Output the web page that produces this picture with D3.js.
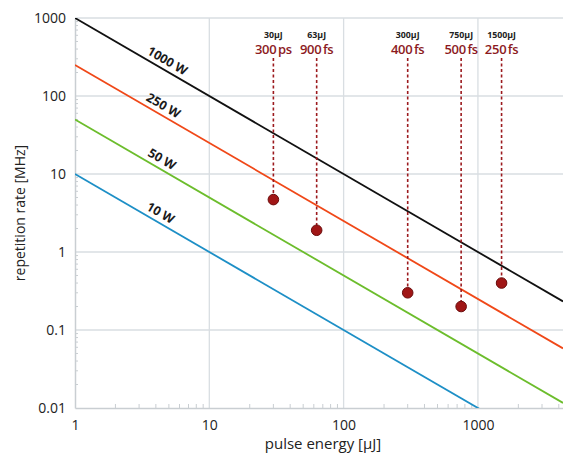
<!DOCTYPE html>
<html><head><meta charset="utf-8">
<script src="https://cdn.jsdelivr.net/npm/d3@7"></script>
<style>body{margin:0;background:#fff}svg{display:block}</style>
</head><body>
<svg id="c" width="563" height="460"></svg>
<script>
// ---- data ----
const powers = [1000, 250, 50, 10];
const powerLabels = ["1000 W", "250 W", "50 W", "10 W"];
const powerLabelEnergy = [4.5, 4.2, 4.1, 4.0];
const pointEnergy = [30, 63, 300, 750, 1500];
const pointRate = [4.7, 1.9, 0.3, 0.2, 0.4];
const pointEnergyLabels = ["30µJ", "63µJ", "300µJ", "750µJ", "1500µJ"];
const pointDurationLabels = ["300 ps", "900 fs", "400 fs", "500 fs", "250 fs"];
const xTicks = [1, 10, 100, 1000];
const xTickLabels = ["1", "10", "100", "1000"];
const yTicks = [0.01, 0.1, 1, 10, 100, 1000];
const yTickLabels = ["0.01", "0.1", "1", "10", "100", "1000"];
const xTitle = "pulse energy [µJ]";
const yTitle = "repetition rate [MHz]";

// ---- style ----
const lineColors = ["#111111", "#f04818", "#6cbd2c", "#1d8fc6"];
const gridColor = "#d9dee2";
const font = "'Open Sans', sans-serif";

const svg = d3.select("#c");
const L = 75, R = 563, T = 18, B = 408;
const x = d3.scaleLog().domain([1, 4300]).range([L, R]);
const y = d3.scaleLog().domain([0.01, 1000]).range([B, T]);

svg.append("defs").append("clipPath").attr("id", "clip")
  .append("rect").attr("x", L).attr("y", T).attr("width", R - L).attr("height", B - T);

// grid
const g = svg.append("g");
g.selectAll(".gx").data(xTicks.slice(1)).join("line")
  .attr("x1", d => x(d)).attr("x2", d => x(d)).attr("y1", T).attr("y2", B)
  .attr("stroke", gridColor).attr("stroke-width", 1.3);
g.selectAll(".gy").data(yTicks.slice(1)).join("line")
  .attr("x1", L).attr("x2", R).attr("y1", d => y(d)).attr("y2", d => y(d))
  .attr("stroke", gridColor).attr("stroke-width", 1.3);

// axes
const xMinor = [];
for (let dec = 1; dec <= 1000; dec *= 10) for (let k = 2; k <= 9; k++) if (dec * k < 4300) xMinor.push(dec * k);
const yMinor = [];
for (let dec = 0.01; dec < 1000; dec *= 10) for (let k = 2; k <= 9; k++) yMinor.push(dec * k);

const xAxis = d3.axisBottom(x).tickValues(xTicks).tickFormat((d, i) => xTickLabels[i]).tickSize(0).tickPadding(12);
const xa = svg.append("g").attr("transform", `translate(0,${B})`).call(xAxis);
xa.select(".domain").attr("stroke", "#c9ced2").attr("stroke-width", 1.5);
xa.selectAll("text").attr("font-family", font).attr("font-size", 14).attr("fill", "#222");
svg.append("g").selectAll("line").data(xMinor).join("line")
  .attr("x1", d => x(d)).attr("x2", d => x(d)).attr("y1", B).attr("y2", B - 4)
  .attr("stroke", "#c9ced2").attr("stroke-width", 1);

const yAxis = d3.axisLeft(y).tickValues(yTicks).tickFormat((d, i) => yTickLabels[i]).tickSize(0).tickPadding(9);
const ya = svg.append("g").attr("transform", `translate(${L},0)`).call(yAxis);
ya.select(".domain").attr("stroke", "#c9ced2").attr("stroke-width", 1.5);
ya.selectAll("text").attr("font-family", font).attr("font-size", 14).attr("fill", "#222");
svg.append("g").selectAll("line").data(yMinor).join("line")
  .attr("x1", L).attr("x2", L + 3).attr("y1", d => y(d)).attr("y2", d => y(d))
  .attr("stroke", "#c9ced2").attr("stroke-width", 1);

// power lines
const eSamples = [1, 4300];
const lg = svg.append("g").attr("clip-path", "url(#clip)");
powers.forEach((p, i) => {
  lg.append("path")
    .datum(eSamples.map(e => [e, p / e]))
    .attr("d", d3.line().x(d => x(d[0])).y(d => y(d[1])))
    .attr("fill", "none").attr("stroke", lineColors[i]).attr("stroke-width", 1.8);
});

// power labels
const ang = Math.atan2(y(1) - y(10), x(10) - x(1)) * 180 / Math.PI;
powers.forEach((p, i) => {
  const e = powerLabelEnergy[i];
  svg.append("text")
    .attr("transform", `translate(${x(e)},${y(p / e)}) rotate(${ang}) translate(0,-5)`)
    .attr("text-anchor", "middle")
    .attr("font-family", font).attr("font-weight", 700).attr("font-size", 12.5)
    .attr("fill", "#1a1a1a").text(powerLabels[i]);
});

// annotations
const ann = svg.append("g");
pointEnergy.forEach((e, i) => {
  const px = x(e), py = y(pointRate[i]);
  ann.append("line").attr("x1", px).attr("x2", px).attr("y1", 58).attr("y2", py)
    .attr("stroke", "#9c1a1e").attr("stroke-width", 1.6).attr("stroke-dasharray", "3,2.5");
  ann.append("text").attr("x", px).attr("y", 38).attr("text-anchor", "middle")
    .attr("font-family", font).attr("font-weight", 700).attr("font-size", 8.8).attr("fill", "#222")
    .text(pointEnergyLabels[i]);
  ann.append("text").attr("x", px).attr("y", 54).attr("text-anchor", "middle")
    .attr("font-family", font).attr("font-weight", 600).attr("font-size", 13)
    .attr("letter-spacing", -0.3).attr("word-spacing", -1.5).attr("fill", "#8c1a1e")
    .text(pointDurationLabels[i]);
  ann.append("circle").attr("cx", px).attr("cy", py).attr("r", 5.3)
    .attr("fill", "#a01616").attr("stroke", "#6a0c0c").attr("stroke-width", 1);
});

// titles
svg.append("text").attr("x", 323).attr("y", 449).attr("text-anchor", "middle")
  .attr("font-family", font).attr("font-size", 15).attr("fill", "#222").text(xTitle);
svg.append("text").attr("transform", `translate(25,213) rotate(-90)`).attr("text-anchor", "middle")
  .attr("font-family", font).attr("font-size", 14).attr("fill", "#222").text(yTitle);
</script>
</body></html>
